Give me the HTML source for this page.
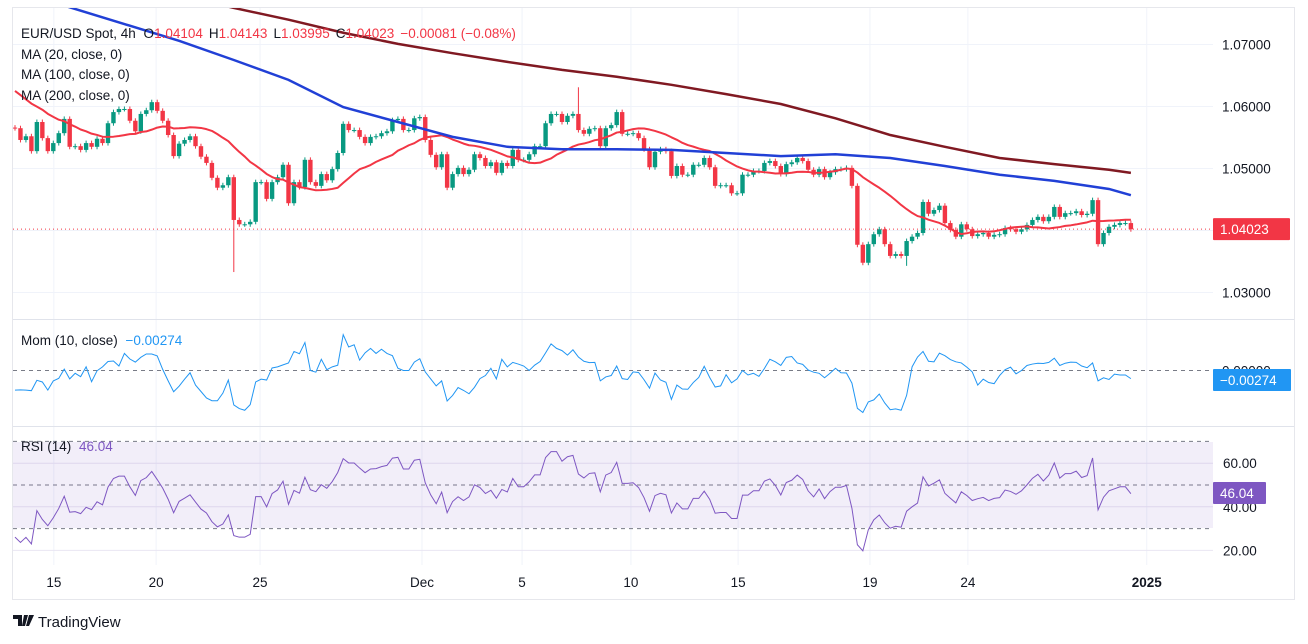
<!DOCTYPE html>
<html><head><meta charset="utf-8">
<style>
html,body{margin:0;padding:0;background:#fff;width:1308px;height:644px;overflow:hidden;font-family:"Liberation Sans",sans-serif;}
svg text{font-family:"Liberation Sans",sans-serif;}
</style></head>
<body>
<svg id="chart" width="1308" height="644" viewBox="0 0 1308 644" xmlns="http://www.w3.org/2000/svg">
<rect x="12.5" y="7.5" width="1282" height="592" fill="#fff" stroke="#e6e7ec"/>
<g id="grid"></g>
<rect x="13" y="442" width="1200" height="86" fill="#7e57c2" fill-opacity="0.1"/>
<g id="plots"></g>
<line x1="13" y1="319.5" x2="1294" y2="319.5" stroke="#e0e3eb"/>
<line x1="13" y1="426.5" x2="1294" y2="426.5" stroke="#e0e3eb"/>
<g id="axes"></g>
<g font-size="13.5" fill="#131722">
<text x="21" y="38">EUR/USD Spot, 4h <tspan dx="4">O</tspan><tspan fill="#f23645">1.04104</tspan><tspan dx="6">H</tspan><tspan fill="#f23645">1.04143</tspan><tspan dx="6">L</tspan><tspan fill="#f23645">1.03995</tspan><tspan dx="6">C</tspan><tspan fill="#f23645">1.04023</tspan><tspan dx="6" fill="#f23645">−0.00081 (−0.08%)</tspan></text>
<text x="21" y="59">MA (20, close, 0)</text>
<text x="21" y="79">MA (100, close, 0)</text>
<text x="21" y="100">MA (200, close, 0)</text>
<text x="21" y="345">Mom (10, close) <tspan dx="4" fill="#2196f3">−0.00274</tspan></text>
<text x="21" y="451">RSI (14) <tspan dx="4" fill="#7e57c2">46.04</tspan></text>
</g>
<g>
<path d="M13 615h9v11h-4v-7h-5z M24 615h4l-3 11h-3z M29 615h5l-5 11h-3z" fill="#131722"/>
<text x="38" y="627" font-size="15" fill="#131722">TradingView</text>
</g>
</svg>
<script>
const preCloses=[1.0700,1.0680,1.0690,1.0665,1.0672,1.0650,1.0660,1.0640,1.0648,1.0625,1.0635,1.0615,1.0622,1.0600,1.0610,1.0590,1.0598,1.0578,1.0585,1.0575];
const closes=[1.0565,1.0546,1.0552,1.0528,1.0575,1.0549,1.0528,1.0541,1.0557,1.0580,
1.0535,1.0536,1.0530,1.0541,1.0535,1.0548,1.0541,1.0573,1.0591,1.0596,
1.0596,1.0577,1.0560,1.0588,1.0594,1.0607,1.0593,1.0577,1.0554,1.0520,
1.0540,1.0546,1.0552,1.0536,1.0519,1.0509,1.0485,1.0469,1.0473,1.0486,
1.0417,1.0410,1.0410,1.0414,1.0478,1.0478,1.0451,1.0478,1.0486,1.0506,
1.0444,1.0478,1.0470,1.0514,1.0478,1.0472,1.0491,1.0481,1.0499,1.0525,
1.0572,1.0562,1.0562,1.0551,1.0541,1.0551,1.0552,1.0557,1.0560,1.0578,
1.0580,1.0562,1.0562,1.0581,1.0583,1.0546,1.0522,1.0502,
1.0523,1.0469,1.0491,1.0501,1.0491,1.0498,1.0523,1.0517,1.0504,1.0510,
1.0493,1.0509,1.0504,1.0530,1.0514,1.0514,1.0523,1.0536,1.0536,1.0573,
1.0588,1.0588,1.0575,1.0585,1.0588,1.0562,1.0556,1.0564,1.0565,1.0536,
1.0565,1.0570,1.0591,1.0556,1.0556,1.0557,1.0549,1.0531,1.0502,1.0527,
1.0531,1.0528,1.0488,1.0504,1.0490,1.0490,1.0506,1.0506,1.0517,1.0502,
1.0472,1.0473,1.0473,1.0460,1.0460,1.0490,1.0490,1.0496,1.0496,1.0509,
1.0512,1.0504,1.0491,1.0507,1.0510,1.0517,1.0512,1.0498,1.0490,1.0499,
1.0486,1.0494,1.0499,1.0499,1.0501,1.0472,1.0377,
1.0348,1.0378,1.0394,1.0402,1.0378,1.0359,1.0362,1.0359,1.0383,1.0390,
1.0396,1.0446,1.0427,1.0433,1.0440,1.0412,1.0401,1.0390,1.0410,1.0402,
1.0391,1.0394,1.0396,1.0390,1.0393,1.0394,1.0404,1.0402,1.0398,1.0402,
1.0409,1.0417,1.0422,1.0415,1.0422,1.0438,1.0422,1.0428,1.0428,1.0431,
1.0425,1.0427,1.0449,1.0378,1.0396,1.0406,1.0409,1.0412,1.0412,1.0402];
const firstOpen=1.0566;
const bigWickIdx=[40,103,155,163,84,120];
const bigWickHigh=[null,1.0631,null,null,null,null];
const bigWickLow=[1.0333,null,1.0344,1.0343,null,null];
const ma100Idx=[0,10,20,30,40,50,60,70,80,90,100,110,120,130,140,150,160,170,180,190,200,204];
const ma100Vals=[1.0788,1.0760,1.0733,1.0706,1.0675,1.0643,1.0599,1.0575,1.0551,1.0535,1.0531,1.0531,1.0530,1.0525,1.0520,1.0523,1.0517,1.0504,1.0490,1.0480,1.0467,1.0457];
const ma200Idx=[0,10,20,30,40,50,60,70,80,90,100,110,120,130,140,150,160,170,180,190,200,204];
const ma200Vals=[1.0821,1.0813,1.0796,1.0780,1.0759,1.0740,1.0719,1.0701,1.0686,1.0672,1.0659,1.0648,1.0635,1.0620,1.0604,1.0581,1.0554,1.0535,1.0517,1.0507,1.0498,1.0493];
const dateLabels=["15","20","25","Dec","5","10","15","19","24","2025"];
const dateIdx=[7.1,25.8,44.8,74.4,92.7,112.6,132.2,156.3,174.2,206.9];
const priceTicks=[1.07,1.06,1.05,1.03];
const rsiTicks=[60,40,20];
const lastPrice=1.04023;

const NS="http://www.w3.org/2000/svg";
const X=i=>15+i*5.47;
const PY=p=>230.5-(p-1.04)*6200;
const MY=m=>370.5-m*2800;
const RY=r=>485-(r-50)*2.18;
function mk(tag,attrs,parent){const e=document.createElementNS(NS,tag);for(const k in attrs)e.setAttribute(k,attrs[k]);parent.appendChild(e);return e;}
const svg=document.getElementById('chart');
const grid=document.getElementById('grid'),plots=document.getElementById('plots'),axes=document.getElementById('axes');
const defs=mk('defs',{},svg);
const c1=mk('clipPath',{id:'cMain'},defs);mk('rect',{x:13,y:8,width:1200,height:311},c1);
const c2=mk('clipPath',{id:'cMom'},defs);mk('rect',{x:13,y:320,width:1200,height:106},c2);
const c3=mk('clipPath',{id:'cRsi'},defs);mk('rect',{x:13,y:427,width:1200,height:138},c3);

// grid
dateIdx.forEach((d,k)=>{
  const l=mk('line',{x1:X(d),x2:X(d),y1:8,y2:565,stroke:'#f0f3fa'},grid);
  
  
  const t=mk('text',{x:X(d),y:587,'text-anchor':'middle','font-size':'13.5',fill:'#131722','font-weight':(dateLabels[k]==='2025')?'bold':'normal'},axes);
  t.textContent=dateLabels[k];
  
  
});
priceTicks.concat([1.04]).forEach(p=>{
  const l=mk('line',{x1:13,x2:1213,y1:PY(p),y2:PY(p),stroke:'#f0f3fa'},grid);
  
  
});
priceTicks.forEach(p=>{
  const t=mk('text',{x:1222,y:PY(p)+5,'font-size':'13.5',fill:'#131722'},axes);
  t.textContent=p.toFixed(5);
  
  
});
rsiTicks.forEach(r=>{
  const l=mk('line',{x1:13,x2:1213,y1:RY(r),y2:RY(r),stroke:'#e9e6f3'},grid);
  
  
  const t=mk('text',{x:1223,y:RY(r)+5,'font-size':'13.5',fill:'#131722'},axes);
  t.textContent=r.toFixed(2);
  
  
});
[70,50,30].forEach(r=>{
  const l=mk('line',{x1:13,x2:1213,y1:RY(r),y2:RY(r),stroke:'#787b86','stroke-dasharray':'4 4'},grid);
  
  
});
const zl=mk('line',{x1:13,x2:1213,y1:MY(0),y2:MY(0),stroke:'#787b86','stroke-dasharray':'4 4'},grid);


const zt=mk('text',{x:1222,y:MY(0)+5,'font-size':'13.5',fill:'#131722'},axes);
zt.textContent='0.00000';



// candles
const gC=mk('g',{'clip-path':'url(#cMain)'},plots);


closes.forEach((c,i)=>{
  const o=i===0?firstOpen:closes[i-1];
  let h=Math.max(o,c)+0.0004,l=Math.min(o,c)-0.0004;
  const k=bigWickIdx.indexOf(i);
  if(k>=0){if(bigWickHigh[k]!==null)h=bigWickHigh[k];if(bigWickLow[k]!==null)l=bigWickLow[k];}
  const col=c>=o?'#089981':'#f23645';
  const x=X(i);
  const w=mk('line',{x1:x,x2:x,y1:PY(h),y2:PY(l),stroke:col,'stroke-width':1},gC);
  
  
  const top=PY(Math.max(o,c)),bot=PY(Math.min(o,c));
  const b=mk('rect',{x:x-2.2,y:top,width:4.4,height:Math.max(1,bot-top),fill:col},gC);
  
  
});
// MA20
const all=preCloses.concat(closes);const P=preCloses.length;
let pts=[];
closes.forEach((c,i)=>{let s=0;for(let j=0;j<20;j++)s+=all[P+i-j];pts.push(X(i)+','+PY(s/20));});
const g2=mk('g',{'clip-path':'url(#cMain)'},plots);
const m20=mk('polyline',{points:pts.join(' '),fill:'none',stroke:'#f23645','stroke-width':2,'stroke-linejoin':'round'},g2);


const m100=mk('polyline',{points:ma100Idx.map((d,k)=>X(d)+','+PY(ma100Vals[k])).join(' '),fill:'none',stroke:'#2140d6','stroke-width':2.5},g2);


const m200=mk('polyline',{points:ma200Idx.map((d,k)=>X(d)+','+PY(ma200Vals[k])).join(' '),fill:'none',stroke:'#801922','stroke-width':2.5},g2);


const pl=mk('line',{x1:13,x2:1213,y1:PY(lastPrice),y2:PY(lastPrice),stroke:'#f23645','stroke-dasharray':'1 3'},plots);



// momentum
pts=[];
closes.forEach((c,i)=>{pts.push(X(i)+','+MY(c-all[P+i-10]));});
const g3=mk('g',{'clip-path':'url(#cMom)'},plots);
const mom=mk('polyline',{points:pts.join(' '),fill:'none',stroke:'#2196f3','stroke-width':1},g3);



// RSI
let ag=0,al=0;const n=14;pts=[];
for(let j=1;j<=n;j++){const d=all[j]-all[j-1];if(d>0)ag+=d;else al-=d;}ag/=n;al/=n;
for(let j=n+1;j<all.length;j++){const d=all[j]-all[j-1];ag=(ag*(n-1)+Math.max(d,0))/n;al=(al*(n-1)+Math.max(-d,0))/n;
  if(j>=P){const r=al===0?100:100-100/(1+ag/al);pts.push(X(j-P)+','+RY(r));}}
const g4=mk('g',{'clip-path':'url(#cRsi)'},plots);
const rsi=mk('polyline',{points:pts.join(' '),fill:'none',stroke:'#7e57c2','stroke-width':1},g4);



// tags
function tag(y,w,col,txt,name){
  const g=mk('g',{},axes);
  
  
  mk('rect',{x:1213,y:y-11,width:w,height:22,fill:col,rx:1},g);
  const t=mk('text',{x:1220,y:y+5,'font-size':'13.5',fill:'#fff'},g);t.textContent=txt;
}
tag(PY(lastPrice),77,'#f23645','1.04023','last-price-tag');
tag(380,78,'#2196f3','−0.00274','mom-value-tag');
tag(493,53,'#7e57c2','46.04','rsi-value-tag');
</script>
</body></html>
